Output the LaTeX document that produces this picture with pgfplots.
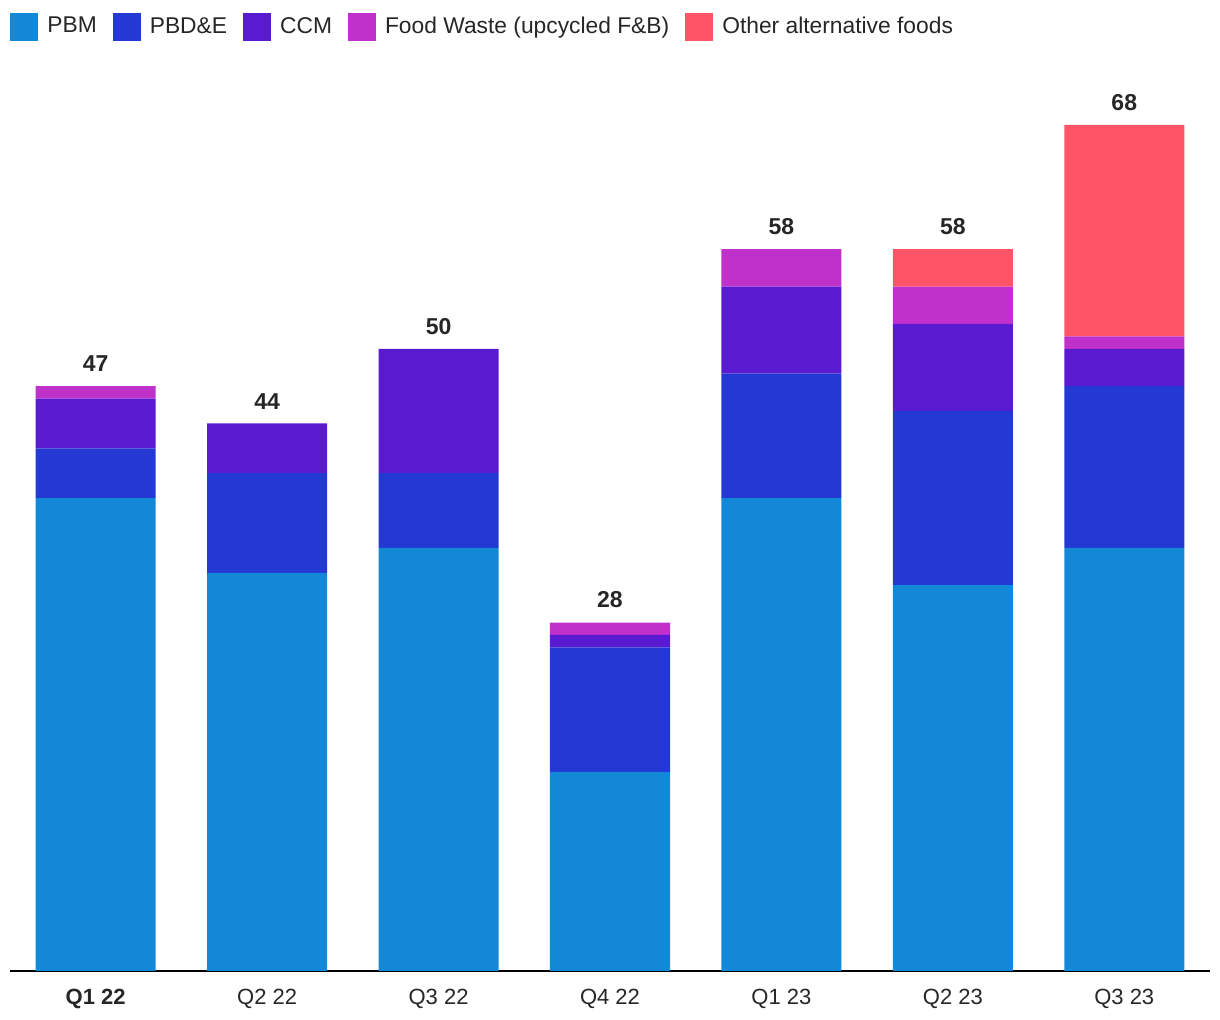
\documentclass[border=0pt]{standalone}
\usepackage{pgfplots}
\pgfplotsset{compat=1.18}
\usepackage{fontspec}
\setmainfont{Liberation Sans}
\definecolor{cPBM}{HTML}{1288D6}
\definecolor{cPBDE}{HTML}{2438D4}
\definecolor{cCCM}{HTML}{5A1ACF}
\definecolor{cFW}{HTML}{C030CB}
\definecolor{cOTH}{HTML}{FF5468}
\begin{document}
\begin{tikzpicture}
\path[use as bounding box] (-5pt,-24.5pt) rectangle (605pt,485.5pt);
\begin{axis}[
  at={(0,0)}, anchor=south west,
  scale only axis, width=600pt, height=448pt,
  ybar stacked, bar width=60pt,
  xmin=-0.5, xmax=6.5, ymin=0, ymax=72,
  axis y line=none, axis x line*=bottom,
  x axis line style={-, black, line width=1pt},
  xtick={0,...,6}, major tick length=0pt,
  xticklabels={\textbf{Q1 22},Q2 22,Q3 22,Q4 22,Q1 23,Q2 23,Q3 23},
  xticklabel style={font=\fontsize{11}{13}\selectfont, text=black!85, yshift=-5.5pt},
  legend columns=5,
  legend style={at={(0.0,1.054)}, anchor=west, draw=none, fill=none, inner sep=0pt,
    font=\fontsize{11.4}{13}\selectfont, text=black!85,
    /tikz/every odd column/.append style={column sep=2.5pt},
    /tikz/every even column/.append style={column sep=6pt}},
  legend image code/.code={\fill[#1] (0pt,-7pt) rectangle (14pt,7pt);},
  legend cell align=left,
]
\addplot[fill=cPBM, draw=none] coordinates {(0,38) (1,32) (2,34) (3,16) (4,38) (5,31) (6,34)};
\addlegendentry{PBM}
\addplot[fill=cPBDE, draw=none] coordinates {(0,4) (1,8) (2,6) (3,10) (4,10) (5,14) (6,13)};
\addlegendentry{PBD\&E}
\addplot[fill=cCCM, draw=none] coordinates {(0,4) (1,4) (2,10) (3,1) (4,7) (5,7) (6,3)};
\addlegendentry{CCM}
\addplot[fill=cFW, draw=none] coordinates {(0,1) (1,0) (2,0) (3,1) (4,3) (5,3) (6,1)};
\addlegendentry{Food Waste (upcycled F\&B)}
\addplot[fill=cOTH, draw=none] coordinates {(0,0) (1,0) (2,0) (3,0) (4,0) (5,3) (6,17)};
\addlegendentry{Other alternative foods}
\addplot[draw=none, fill=none, forget plot,
  nodes near coords, point meta=explicit symbolic,
  every node near coord/.append style={anchor=south, inner sep=0pt, yshift=7pt,
    font=\fontsize{11.5}{13}\selectfont\bfseries, text=black!85}]
  coordinates {(0,0.0001)[47] (1,0.0001)[44] (2,0.0001)[50] (3,0.0001)[28] (4,0.0001)[58] (5,0.0001)[58] (6,0.0001)[68]};
\end{axis}
\end{tikzpicture}
\end{document}
